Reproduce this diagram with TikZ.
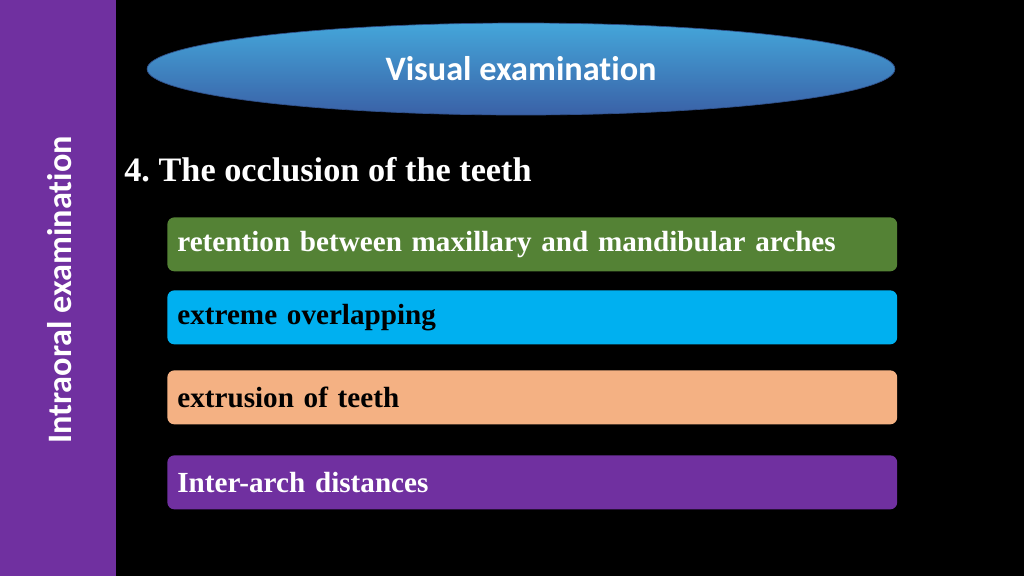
\documentclass[tikz,border=0pt]{standalone}
\usepackage{fontspec}
\setmainfont{Liberation Serif}
\newfontfamily\calib[Ligatures={NoCommon}]{Carlito}
\usetikzlibrary{positioning,shapes.geometric}
\definecolor{barpurple}{HTML}{7030A0}
\definecolor{itemgreen}{HTML}{548235}
\definecolor{itemcyan}{HTML}{00B0F0}
\definecolor{itempeach}{HTML}{F4B183}
\definecolor{ovalblue}{HTML}{4472C4}
\tikzset{
  itembox/.style={rounded corners=4pt, minimum width=14.56cm, minimum height=1.08cm,
    text width=14.2cm, align=left, font=\frenchspacing\bfseries\fontsize{16.6}{18}\selectfont, inner xsep=0.2cm, anchor=north west}
}
\begin{document}
\begin{tikzpicture}[x=0.02cm,y=-0.02cm]
  \useasboundingbox (0,0) rectangle (1024,576);
  \fill[black] (0,0) rectangle (1024,576);
  % side bar
  \fill[barpurple] (0,0) rectangle (116,576);
  \node[rotate=90, text=white, font=\calib\bfseries\fontsize{19.5}{24}\selectfont] (side) at (60,290) {Intraoral examination};
  % oval
  \node[ellipse, minimum width=14.96cm, minimum height=1.84cm, top color=ovalblue!70!cyan!90!white, bottom color=ovalblue!85!black, draw=ovalblue!70!black,
    text=white, font=\calib\bfseries\fontsize{19.5}{22}\selectfont] (oval) at (521,69) {Visual examination};
  % heading
  \node[anchor=west, text=white, font=\frenchspacing\bfseries\fontsize{19.5}{24}\selectfont, inner sep=0pt] (head) at (124,170) {4. The occlusion of the teeth};
  % items
  \node[itembox, fill=itemgreen, text=white] (i1) at (167,217) {retention between maxillary and mandibular arches};
  \node[itembox, fill=itemcyan, text=black] (i2) at (167,290) {extreme overlapping};
  \node[itembox, fill=itempeach, text=black] (i3) at (167,370) {extrusion of teeth};
  \node[itembox, fill=barpurple, text=white] (i4) at (167,455) {Inter-arch distances};
\end{tikzpicture}
\end{document}
